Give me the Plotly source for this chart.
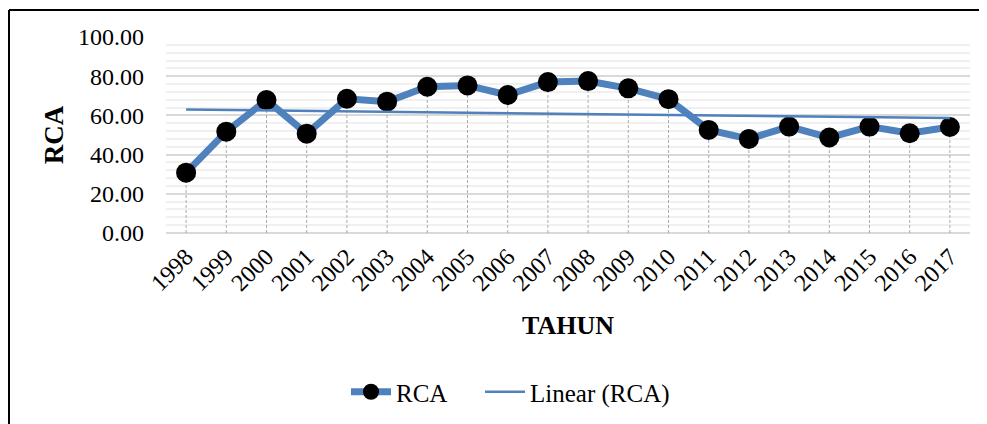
import numpy as np
import plotly.graph_objects as go

years = ["1998", "1999", "2000", "2001", "2002", "2003", "2004", "2005", "2006", "2007",
         "2008", "2009", "2010", "2011", "2012", "2013", "2014", "2015", "2016", "2017"]
rca = [30.8, 51.7, 67.8, 50.7, 68.5, 67.0, 74.6, 75.3, 70.4, 77.0,
       77.5, 73.8, 68.3, 52.6, 48.0, 54.3, 48.7, 54.3, 50.9, 54.1]
y_ticks = [0, 20, 40, 60, 80, 100]

BLUE = "rgb(79,129,189)"
FONT = "Liberation Serif"

x = np.arange(len(years))
# linear trend like Excel's "Linear (RCA)"
slope, intercept = np.polyfit(x, rca, 1)
trend = slope * x + intercept

# drop lines from each point down to the axis
drop_x, drop_y = [], []
for i, v in zip(x, rca):
    drop_x += [i, i, None]
    drop_y += [0, v, None]

fig = go.Figure()
fig.add_trace(go.Scatter(
    x=drop_x, y=drop_y, mode="lines", showlegend=False, hoverinfo="skip",
    line=dict(color="rgb(170,170,170)", width=1, dash="3px,2px"),
))
fig.add_trace(go.Scatter(
    x=x, y=rca, mode="lines+markers", name="RCA", legend="legend",
    line=dict(color=BLUE, width=7),
    marker=dict(color="black", size=20),
))
fig.add_trace(go.Scatter(
    x=x, y=trend, mode="lines", name="Linear (RCA)", legend="legend2",
    line=dict(color=BLUE, width=2.5),
))

# the page body adds an 8px margin, so the figure is a bit smaller than the window
FW, FH = 979, 416
L, R, T, B = 158, 17, 29, 191
W, H = FW - L - R, FH - T - B


def px_x(p):
    return (p - L) / W


def px_y(p):
    return (FH - B - p) / H


leg = dict(orientation="h", xanchor="left", y=px_y(384), yanchor="middle",
           font=dict(size=25), itemwidth=40, bgcolor="rgba(0,0,0,0)")

fig.update_layout(
    width=FW, height=FH,
    margin=dict(l=L, r=R, t=T, b=B, autoexpand=False),
    paper_bgcolor="white", plot_bgcolor="white",
    font=dict(family=FONT, size=24, color="black"),
    showlegend=True,
    legend=dict(leg, x=px_x(338)),
    legend2=dict(leg, x=px_x(472)),
    shapes=[
        dict(type="line", xref="paper", yref="paper", x0=px_x(1), x1=px_x(990),
             y0=px_y(2), y1=px_y(2), line=dict(color="black", width=2)),
        dict(type="line", xref="paper", yref="paper", x0=px_x(1), x1=px_x(1),
             y0=px_y(2), y1=px_y(430), line=dict(color="black", width=2)),
    ],
)
fig.update_xaxes(
    range=[-0.5, len(years) - 0.5], automargin=False,
    tickmode="array", tickvals=x, ticktext=years, tickangle=-45,
    showgrid=False, zeroline=False, showline=False,
    tickfont=dict(size=24), ticklabelstandoff=4,
    title=dict(text="<b>TAHUN</b>", font=dict(size=26), standoff=20),
)
fig.update_yaxes(
    range=[0, 100], automargin=False,
    tickmode="array", tickvals=y_ticks, tickformat=".2f",
    showgrid=True, gridcolor="rgb(217,217,217)", gridwidth=1.5,
    minor=dict(dtick=4, showgrid=True, gridcolor="rgb(240,240,240)", gridwidth=1.5),
    zeroline=True, zerolinecolor="rgb(217,217,217)", zerolinewidth=2,
    showline=False, ticklabelstandoff=21,
    tickfont=dict(size=24),
    title=dict(text="<b>RCA</b>", font=dict(size=27), standoff=6),
)

fig.write_html("out.html")
